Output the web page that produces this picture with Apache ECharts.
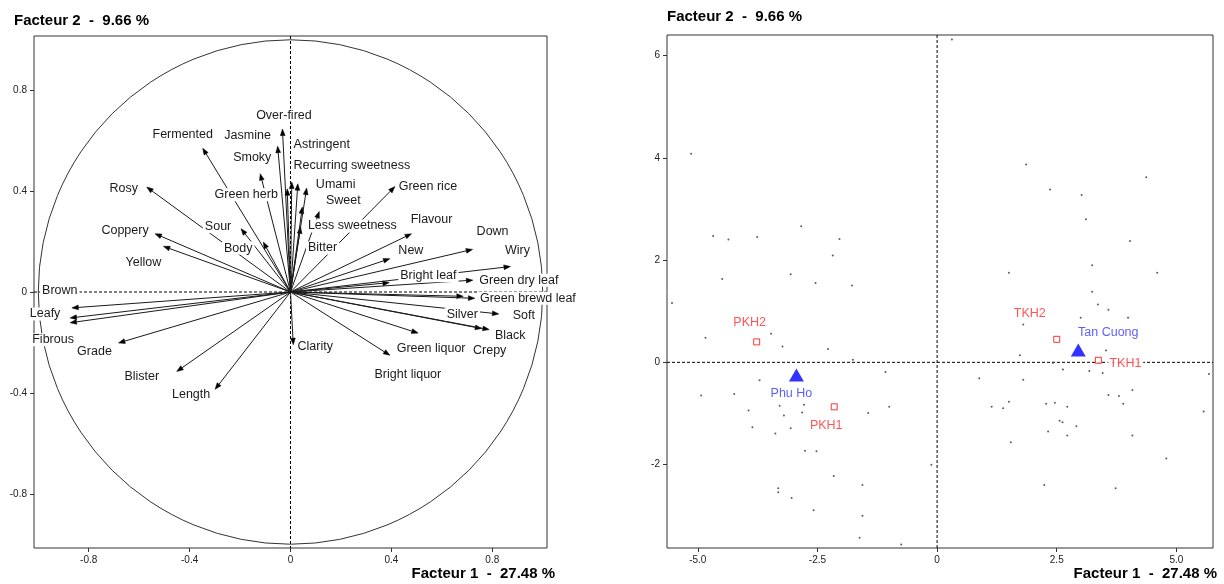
<!DOCTYPE html>
<html>
<head>
<meta charset="utf-8">
<script src="https://cdn.jsdelivr.net/npm/echarts@6/dist/echarts.min.js"></script>
<style>
  html, body { margin: 0; padding: 0; background: #fff; }
  #chart { width: 1224px; height: 584px; }
</style>
</head>
<body>
<div id="chart"></div>
<script>
// ---- Correlation circle: variable loadings on factors 1 and 2 ----
const variables = [
  'Over-fired', 'Jasmine', 'Fermented', 'Smoky', 'Rosy', 'Green herb', 'Sour', 'Coppery',
  'Body', 'Yellow', 'Brown', 'Leafy', 'Fibrous', 'Grade', 'Blister', 'Length', 'Clarity',
  'Bright liquor', 'Green liquor', 'Crepy', 'Black', 'Soft', 'Silver', 'Green brewd leaf',
  'Green dry leaf', 'Bright leaf', 'Wiry', 'Down', 'New', 'Flavour', 'Green rice', 'Bitter',
  'Less sweetness', 'Sweet', 'Umami', 'Recurring sweetness', 'Astringent'
];
const loadF1 = [
  -0.032, -0.051, -0.348, -0.120, -0.570, -0.013, -0.196, -0.537,
  -0.108, -0.504, -0.867, -0.874, -0.874, -0.682, -0.451, -0.299, 0.011,
  0.394, 0.506, 0.758, 0.788, 0.826, 0.685, 0.731,
  0.723, 0.392, 0.872, 0.722, 0.394, 0.480, 0.414, 0.040,
  0.047, 0.114, 0.064, 0.029, 0.005
];
const loadF2 = [
  0.646, 0.578, 0.570, 0.469, 0.416, 0.409, 0.251, 0.231,
  0.198, 0.181, -0.063, -0.103, -0.122, -0.202, -0.315, -0.386, -0.209,
  -0.251, -0.163, -0.145, -0.149, -0.087, -0.017, -0.025,
  0.047, 0.037, 0.101, 0.169, 0.132, 0.231, 0.418, 0.258,
  0.337, 0.319, 0.412, 0.429, 0.436
];

// ---- Factor map: individual scores, samples and origins ----
const indivF1 = [
  -5.14, -4.68, -4.36, -3.76, -2.84, -2.04, -2.18, -4.49, -3.06, -2.54, -1.78,
  0.31, 1.86, 4.37, 2.36, 3.02, 3.11, 4.03, 3.24, 1.50, 4.60, 3.24,
  -5.54, -4.84, -3.47, -3.23, -2.28, -1.76, -1.08, -3.71, -4.93, -4.24, -3.94,
  -3.29, -3.20, -2.82, -2.78, -1.44, -1.00, -3.86, -3.06, -3.38, -2.76, -2.52,
  -2.16, -1.56, -3.32, -3.32, -3.04, -2.58, -1.56, -1.62, -0.75,
  3.36, 3.58, 3.00, 3.99, 1.80, 3.53, 1.73, 2.42, 2.63, 3.18, 3.46, 0.88, 1.80,
  5.68, 4.08, 3.58, 3.80, 1.50, 2.28, 2.46, 3.89, 1.14, 1.38, 2.72, 5.57, 2.56,
  2.62, 2.91, 2.32, 2.72, 4.08, 1.54, 4.79, -0.12, 2.24, 3.73
];
const indivF2 = [
  4.08, 2.47, 2.40, 2.45, 2.66, 2.41, 2.09, 1.63, 1.72, 1.55, 1.50,
  6.31, 3.87, 3.62, 3.38, 3.27, 2.80, 2.37, 1.90, 1.75, 1.75, 1.38,
  1.16, 0.48, 0.56, 0.31, 0.26, 0.05, -0.19, -0.35, -0.65, -0.62, -0.94,
  -0.85, -1.04, -0.98, -0.83, -0.99, -0.87, -1.27, -1.29, -1.39, -1.73, -1.74,
  -2.22, -2.40, -2.46, -2.54, -2.65, -2.89, -3.00, -3.43, -3.56,
  1.13, 1.03, 0.87, 0.87, 0.74, 0.23, 0.14, -0.01, -0.14, -0.17, -0.21, -0.31, -0.34,
  -0.23, -0.54, -0.64, -0.66, -0.77, -0.81, -0.79, -0.81, -0.87, -0.90, -0.87, -0.96, -1.14,
  -1.17, -1.25, -1.35, -1.43, -1.43, -1.56, -1.88, -2.00, -2.40, -2.46
];
const samples = ['PKH2', 'PKH1', 'TKH2', 'TKH1'];
const sampleF1 = [-3.77, -2.15, 2.50, 3.37];
const sampleF2 = [0.40, -0.87, 0.45, 0.04];
const origins = ['Phu Ho', 'Tan Cuong'];
const originF1 = [-2.94, 2.95];
const originF2 = [-0.25, 0.24];

// ---- Tick values and their printed labels ----
const corTicks = [-0.8, -0.4, 0, 0.4, 0.8];
const corTickLabels = ['-0.8', '-0.4', '0', '0.4', '0.8'];
const scoreXTicks = [-5, -2.5, 0, 2.5, 5];
const scoreXLabels = ['-5.0', '-2.5', '0', '2.5', '5.0'];
const scoreYTicks = [-2, 0, 2, 4, 6];
const scoreYLabels = ['-2', '0', '2', '4', '6'];

const axisTitleX = 'Facteur 1  -  27.48 %';
const axisTitleY = 'Facteur 2  -  9.66 %';

// ---- Layout: label placement (pixel offsets from the arrow tip / marker) ----
const varLabelShift = [
  [1.5, -14], [-30, -11], [-20, -14], [-8, -16], [-23, 1], [-41, 6], [-23, -2], [-30, -3],
  [-25, 6], [-20, 16], [-12, -17], [-25, -4], [-17, 17], [-24, 9], [-35, 5], [-24, 5], [22, 2],
  [18, 19], [13, 15], [8, 22], [21, 6], [25, 2], [-1, 18], [53, 0],
  [46, 0], [39, -7], [7, -16], [20, -18], [21, -8], [20, -14], [33, 0], [22, 21],
  [50, 19], [24, -11], [29, -4], [54, -18], [30, -37]
];
const sampleLabelShift = [[-7, -19], [-8, 19], [-27, -26], [27, 3]];
const originLabelShift = [[-5, 18], [30, -18]];

const FONT = '"Liberation Sans", Arial, Helvetica, sans-serif';
const CIRCLE_R = 1; // unit correlation circle

function tickFormatter(ticks, labels) {
  return function (v) {
    let best = 0;
    for (let i = 1; i < ticks.length; i++) {
      if (Math.abs(ticks[i] - v) < Math.abs(ticks[best] - v)) best = i;
    }
    return labels[best];
  };
}

function valueAxis(gridIndex, min, max, ticks, labels) {
  return {
    type: 'value', gridIndex: gridIndex, min: min, max: max,
    axisLine: { show: false, onZero: false },
    splitLine: { show: false },
    axisTick: { show: true, customValues: ticks, length: 4, lineStyle: { color: '#333', width: 1 } },
    axisLabel: {
      show: true, customValues: ticks, formatter: tickFormatter(ticks, labels),
      color: '#222', fontSize: 10, fontFamily: FONT, margin: 7
    }
  };
}

const dashStyle = { stroke: '#000', lineWidth: 1, lineDash: [3, 2] };

function renderGuides(withCircle) {
  return function (params, api) {
    const cs = params.coordSys;
    const o = api.coord([0, 0]);
    const children = [
      { type: 'line', shape: { x1: cs.x, y1: o[1], x2: cs.x + cs.width, y2: o[1] }, style: dashStyle },
      { type: 'line', shape: { x1: o[0], y1: cs.y, x2: o[0], y2: cs.y + cs.height }, style: dashStyle }
    ];
    if (withCircle) {
      const r = api.size([CIRCLE_R, 0])[0];
      children.push({ type: 'circle', shape: { cx: o[0], cy: o[1], r: r },
        style: { fill: 'none', stroke: '#333', lineWidth: 1 } });
    }
    return { type: 'group', children: children };
  };
}

function renderArrow(params, api) {
  const o = api.coord([0, 0]);
  const tip = api.coord([api.value(0), api.value(1)]);
  const dx = tip[0] - o[0], dy = tip[1] - o[1];
  const len = Math.hypot(dx, dy) || 1;
  const ux = dx / len, uy = dy / len;
  const hl = 6.5, hw = 2.4;
  const bx = tip[0] - ux * hl, by = tip[1] - uy * hl;
  return {
    type: 'group',
    children: [
      { type: 'line', shape: { x1: o[0], y1: o[1], x2: bx, y2: by },
        style: { stroke: '#1a1a1a', lineWidth: 1 } },
      { type: 'polygon',
        shape: { points: [[tip[0], tip[1]], [bx - uy * hw, by + ux * hw], [bx + uy * hw, by - ux * hw]] },
        style: { fill: '#000', stroke: '#000', lineWidth: 0.5 } }
    ]
  };
}

function renderVarLabel(params, api) {
  const i = params.dataIndex;
  const tip = api.coord([api.value(0), api.value(1)]);
  const s = varLabelShift[i];
  return {
    type: 'text',
    x: tip[0] + s[0], y: tip[1] + s[1],
    style: {
      text: variables[i], font: '12.5px ' + FONT, fill: '#1a1a1a',
      align: 'center', verticalAlign: 'middle',
      textAlign: 'center', textVerticalAlign: 'middle',
      backgroundColor: '#fff', padding: [0, 2]
    }
  };
}

const loadings = variables.map((n, i) => [loadF1[i], loadF2[i]]);
const indiv = indivF1.map((x, i) => [x, indivF2[i]]);

function labelled(names, xs, ys, shifts) {
  return names.map((n, i) => ({
    name: n, value: [xs[i], ys[i]],
    label: { offset: shifts[i] }
  }));
}

function titleText(text, x, y, align) {
  return {
    type: 'text', x: x, y: y,
    style: {
      text: text, font: 'bold 15px ' + FONT, fill: '#000',
      align: align, verticalAlign: 'middle',
      textAlign: align, textVerticalAlign: 'middle'
    }
  };
}

const chart = echarts.init(document.getElementById('chart'), null, { renderer: 'canvas' });
chart.setOption({
  animation: false,
  backgroundColor: '#fff',
  grid: [
    { left: 34, top: 36, width: 513, height: 512, show: true, borderColor: '#333', borderWidth: 1 },
    { left: 667, top: 35, width: 546, height: 513, show: true, borderColor: '#333', borderWidth: 1 }
  ],
  xAxis: [
    valueAxis(0, -1.017, 1.017, corTicks, corTickLabels),
    valueAxis(1, -5.644, 5.765, scoreXTicks, scoreXLabels)
  ],
  yAxis: [
    valueAxis(0, -1.015, 1.015, corTicks, corTickLabels),
    valueAxis(1, -3.63, 6.40, scoreYTicks, scoreYLabels)
  ],
  graphic: [
    titleText(axisTitleY, 14, 21, 'left'),
    titleText(axisTitleY, 667, 16.5, 'left'),
    titleText(axisTitleX, 555, 573.5, 'right'),
    titleText(axisTitleX, 1217, 573.5, 'right')
  ],
  series: [
    {
      type: 'custom', name: 'guides-cor', xAxisIndex: 0, yAxisIndex: 0, silent: true, z: 1,
      renderItem: renderGuides(true), data: [[0, 0]]
    },
    {
      type: 'custom', name: 'arrows', xAxisIndex: 0, yAxisIndex: 0, silent: true, z: 2,
      renderItem: renderArrow, data: loadings, clip: false
    },
    {
      type: 'custom', name: 'variable labels', xAxisIndex: 0, yAxisIndex: 0, silent: true, z: 3,
      renderItem: renderVarLabel, data: loadings, clip: false
    },
    {
      type: 'custom', name: 'guides-scores', xAxisIndex: 1, yAxisIndex: 1, silent: true, z: 1,
      renderItem: renderGuides(false), data: [[0, 0]]
    },
    {
      type: 'scatter', name: 'individuals', xAxisIndex: 1, yAxisIndex: 1, silent: true, z: 2,
      symbol: 'circle', symbolSize: 2, itemStyle: { color: '#333' }, data: indiv
    },
    {
      type: 'scatter', name: 'samples', xAxisIndex: 1, yAxisIndex: 1, silent: true, z: 3,
      symbol: 'rect', symbolSize: 6,
      itemStyle: { color: '#fff', borderColor: '#ff0000', borderWidth: 1 },
      label: {
        show: true, position: 'inside', formatter: '{b}', color: '#ff2a2a',
        fontSize: 12.5, fontFamily: FONT, backgroundColor: '#fff', padding: [0, 2]
      },
      data: labelled(samples, sampleF1, sampleF2, sampleLabelShift)
    },
    {
      type: 'scatter', name: 'origins', xAxisIndex: 1, yAxisIndex: 1, silent: true, z: 3,
      symbol: 'triangle', symbolSize: [15, 13],
      itemStyle: { color: '#0000ff' },
      label: {
        show: true, position: 'inside', formatter: '{b}', color: '#3535ff',
        fontSize: 12.5, fontFamily: FONT, backgroundColor: '#fff', padding: [0, 2]
      },
      data: labelled(origins, originF1, originF2, originLabelShift)
    }
  ]
});
</script>
</body>
</html>
